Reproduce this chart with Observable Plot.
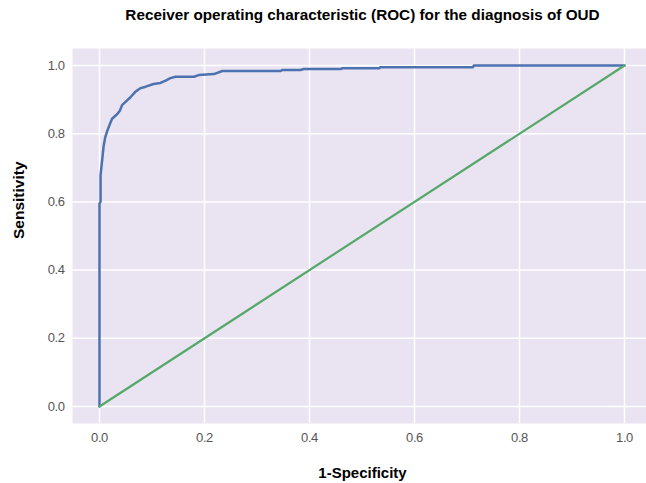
<!DOCTYPE html>
<html><head><meta charset="utf-8">
<script src="https://cdn.jsdelivr.net/npm/d3@7"></script>
<script src="https://cdn.jsdelivr.net/npm/@observablehq/plot@0.6"></script>
<style>
body{margin:0;background:#fff}
svg text{font-family:"Liberation Sans",Arial,Helvetica,sans-serif}
g[aria-label="x-axis tick label"] text, g[aria-label="y-axis tick label"] text{letter-spacing:-0.4px}
</style>
</head><body><div id="chart"></div>
<script>
const fpr = [0, 0, 0.002, 0.002, 0.004, 0.006, 0.008, 0.011, 0.015, 0.02, 0.024, 0.034, 0.039, 0.043, 0.05, 0.059, 0.069, 0.077, 0.088, 0.103, 0.116, 0.126, 0.135, 0.145, 0.18, 0.189, 0.218, 0.234, 0.345, 0.348, 0.383, 0.389, 0.46, 0.462, 0.533, 0.535, 0.711, 0.713, 1.0];
const tpr = [0, 0.595, 0.6, 0.677, 0.707, 0.736, 0.765, 0.79, 0.809, 0.829, 0.844, 0.858, 0.868, 0.884, 0.894, 0.907, 0.924, 0.933, 0.938, 0.946, 0.949, 0.956, 0.963, 0.967, 0.967, 0.972, 0.975, 0.984, 0.984, 0.987, 0.987, 0.99, 0.99, 0.992, 0.992, 0.995, 0.995, 1.0, 1.0];
const chanceX = [0, 1];
const chanceY = [0, 1];
const ticks = [0, 0.2, 0.4, 0.6, 0.8, 1.0];
const titleText = "Receiver operating characteristic (ROC) for the diagnosis of OUD";
const xLabel = "1-Specificity";
const yLabel = "Sensitivity";

const roc = fpr.map((x, i) => ({x, y: tpr[i]}));
const chance = chanceX.map((x, i) => ({x, y: chanceY[i]}));
const fmt = d => d.toFixed(1);

const chart = Plot.plot({
  width: 646, height: 483,
  marginTop: 48, marginBottom: 60, marginLeft: 72, marginRight: 0,
  style: {background: "#fff", fontSize: "13px", color: "#555", fontFamily: "'Liberation Sans', Arial, sans-serif"},
  x: {domain: [-0.0514, 1.0419], ticks, tickFormat: fmt, tickSize: 0, tickPadding: 9, label: null},
  y: {domain: [-0.05, 1.05], ticks, tickFormat: fmt, tickSize: 0, tickPadding: 8, label: null},
  marks: [
    Plot.frame({fill: "#EAE4F2", stroke: null}),
    Plot.ruleX(ticks, {stroke: "#fff", strokeWidth: 1.5}),
    Plot.ruleY(ticks, {stroke: "#fff", strokeWidth: 1.5}),
    Plot.line(roc, {x: "x", y: "y", stroke: "#4C72B0", strokeWidth: 2.5}),
    Plot.line(chance, {x: "x", y: "y", stroke: "#55A868", strokeWidth: 2.2}),
    Plot.text([titleText], {frameAnchor: "top", dx: 3, dy: -33, lineAnchor: "middle", fontSize: 15.3, fontWeight: "bold", fill: "#000"}),
    Plot.text([xLabel], {frameAnchor: "bottom", dx: 3, dy: 50, lineAnchor: "middle", fontSize: 15, fontWeight: "bold", fill: "#000"}),
    Plot.text([yLabel], {frameAnchor: "left", dx: -53, dy: 3, rotate: -90, lineAnchor: "middle", fontSize: 15.5, fontWeight: "bold", fill: "#000"})
  ]
});
document.getElementById("chart").appendChild(chart);
</script>
</body></html>
